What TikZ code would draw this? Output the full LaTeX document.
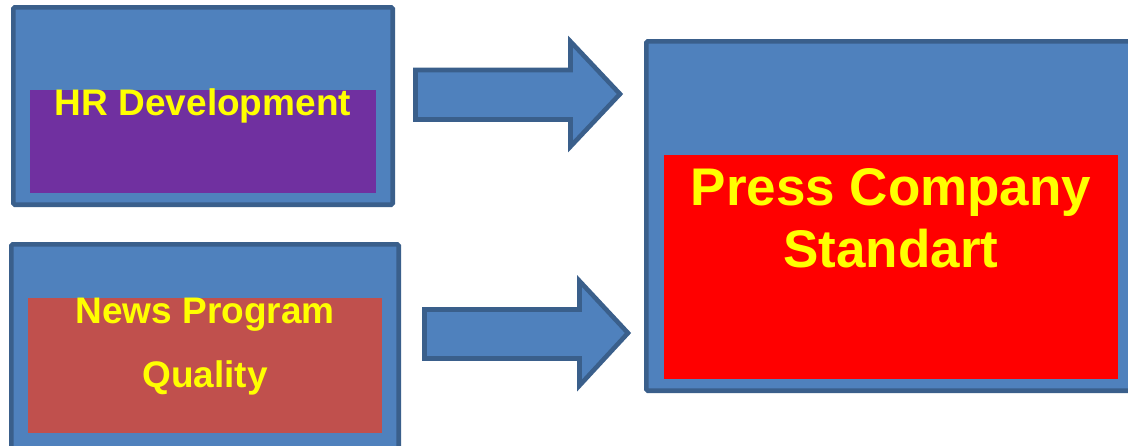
\documentclass[tikz,border=0pt]{standalone}
\usepackage{fontspec}
\setmainfont{Liberation Sans}
\definecolor{boxblue}{HTML}{4F81BD}
\definecolor{edgeblue}{HTML}{3A5F8B}
\definecolor{hrpurple}{HTML}{7030A0}
\definecolor{newsred}{HTML}{C0504D}
\definecolor{pressred}{HTML}{FF0000}
\definecolor{txtyellow}{HTML}{FFFF00}
\begin{document}
\begin{tikzpicture}[x=1pt,y=-1pt,
  outerbox/.style={fill=boxblue,draw=edgeblue,line width=4.6pt,rounded corners=1.5pt,inner sep=0pt,outer sep=0pt},
  innerbox/.style={draw=none,inner sep=0pt,outer sep=0pt},
  blockarrow/.style={fill=boxblue,draw=edgeblue,line width=4.6pt,line join=miter},
  label/.style={text=txtyellow,font=\bfseries\fontsize{#1}{#1}\selectfont,anchor=base,inner sep=0pt}]
\useasboundingbox (0,0) rectangle (1128,445);
\clip (0,0) rectangle (1128,445);
% left top box
\node[outerbox,minimum width=379.4pt,minimum height=197.4pt] (hrbox) at (203,106) {};
\node[innerbox,fill=hrpurple,minimum width=346pt,minimum height=103pt] (hrin) at (203,141.5) {};
\node[label=37] (hrtext) at (203,115) {HR Development};
% left bottom box
\node[outerbox,minimum width=387.4pt,minimum height=210.7pt] (newsbox) at (205,349.65) {};
\node[innerbox,fill=newsred,minimum width=354pt,minimum height=135pt] (newsin) at (205,365.5) {};
\node[label=37] (newstext1) at (205,323) {News Program};
\node[label=37] (newstext2) at (205,387) {Quality};
% right box
\node[outerbox,minimum width=493.7pt,minimum height=349.4pt] (pressbox) at (893.15,216) {};
\node[innerbox,fill=pressred,minimum width=454pt,minimum height=224pt] (pressin) at (891,267) {};
\node[label=53] (presstext1) at (891,205) {Press Company};
\node[label=53] (presstext2) at (891,267) {Standart};
% block arrows
\coordinate (a1tip) at (620,94);
\coordinate (a2tip) at (628,333);
\draw[blockarrow] (415.5,70) -- (570.5,70) -- (570.5,41.5) -- (a1tip) -- (570.5,146.5) -- (570.5,119.5) -- (415.5,119.5) -- cycle;
\draw[blockarrow] (424.5,309.5) -- (579.5,309.5) -- (579.5,281) -- (a2tip) -- (579.5,385.5) -- (579.5,358.5) -- (424.5,358.5) -- cycle;
\end{tikzpicture}
\end{document}
